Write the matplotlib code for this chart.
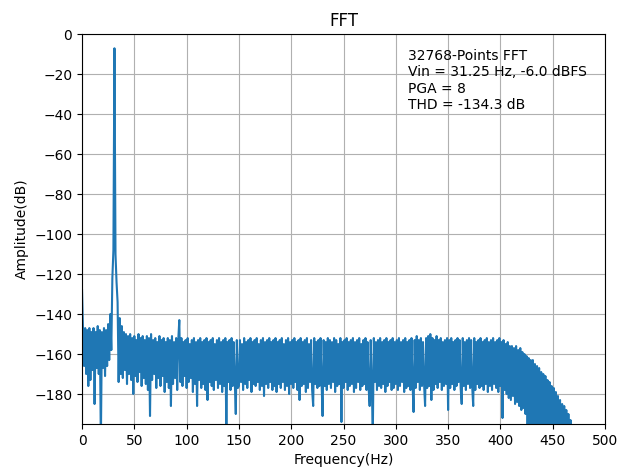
import numpy as np
import matplotlib
matplotlib.use("Agg")
import matplotlib.pyplot as plt

plt.rcParams["path.simplify"] = False

# amplitude (dB), one value per 1 Hz bin from 0 Hz
amp_db = [
    -128, -149, -166, -147, -170, -148, -176, -147, -173, -149,
    -168, -147, -185, -149, -167, -146, -170, -148, -205, -149,
    -167, -147, -171, -148, -166, -145, -163, -140, -158, -122,
    -108, -7, -110, -124, -134, -174, -142, -170, -146, -172,
    -149, -168, -150, -175, -151, -170, -150, -173, -152, -180,
    -151, -171, -153, -174, -150, -169, -152, -176, -151, -172,
    -153, -175, -151, -178, -152, -191, -150, -173, -153, -170,
    -152, -177, -154, -172, -151, -176, -153, -171, -152, -179,
    -154, -174, -152, -177, -153, -186, -151, -175, -154, -172,
    -152, -178, -153, -143, -174, -152, -176, -154, -171, -153,
    -177, -152, -174, -155, -172, -153, -179, -152, -175, -154,
    -186, -153, -173, -152, -177, -154, -175, -153, -178, -152,
    -183, -154, -174, -153, -176, -152, -178, -155, -173, -153,
    -177, -152, -175, -154, -179, -153, -176, -152, -200, -154,
    -174, -153, -178, -152, -176, -154, -173, -190, -153, -177,
    -176, -153, -174, -155, -178, -152, -175, -154, -177, -153,
    -173, -152, -179, -154, -175, -153, -176, -152, -174, -155,
    -178, -153, -176, -152, -181, -154, -175, -153, -177, -152,
    -174, -154, -178, -153, -176, -152, -179, -154, -175, -153,
    -177, -152, -174, -155, -178, -153, -176, -152, -180, -154,
    -175, -153, -177, -152, -174, -154, -178, -153, -183, -152,
    -176, -154, -175, -153, -179, -152, -177, -155, -174, -153,
    -178, -186, -152, -175, -154, -177, -153, -176, -152, -174,
    -191, -153, -176, -154, -178, -152, -175, -153, -177, -154,
    -174, -152, -179, -153, -176, -155, -175, -152, -194, -154,
    -177, -153, -174, -152, -178, -154, -176, -153, -175, -152,
    -179, -154, -177, -153, -174, -152, -178, -155, -176, -153,
    -175, -152, -178, -154, -177, -186, -153, -176, -200, -152,
    -174, -154, -178, -153, -176, -152, -177, -154, -175, -153,
    -179, -152, -176, -154, -174, -153, -178, -152, -177, -154,
    -175, -153, -178, -152, -176, -154, -174, -153, -179, -152,
    -177, -154, -176, -153, -178, -152, -175, -189, -153, -177,
    -151, -174, -153, -178, -152, -176, -154, -175, -186, -152,
    -177, -151, -176, -150, -183, -152, -178, -153, -175, -151,
    -177, -153, -174, -152, -178, -154, -176, -153, -175, -152,
    -188, -153, -177, -152, -175, -154, -178, -153, -176, -152,
    -174, -153, -177, -185, -152, -176, -154, -178, -153, -175,
    -152, -177, -153, -176, -186, -152, -178, -154, -175, -153,
    -177, -152, -176, -154, -178, -153, -175, -152, -179, -154,
    -176, -153, -178, -152, -175, -154, -177, -153, -179, -152,
    -176, -154, -192, -153, -178, -155, -180, -154, -182, -156,
    -183, -156, -181, -157, -185, -156, -184, -158, -186, -157,
    -188, -159, -187, -160, -190, -161, -210, -162, -195, -163,
    -205, -163, -210, -165, -208, -166, -212, -167, -210, -169,
    -215, -170, -212, -171, -218, -173, -215, -174, -220, -176,
    -218, -177, -222, -179, -220, -181, -225, -183, -222, -185,
    -228, -186, -225, -188, -230, -190, -228, -193, -232, -196,
    -230,
]
freq_hz = np.arange(len(amp_db))  # 1 Hz bins

info = "32768-Points FFT\nVin = 31.25 Hz, -6.0 dBFS\nPGA = 8\nTHD = -134.3 dB"

fig = plt.figure(figsize=(6.2, 4.73), dpi=100)
fig.subplots_adjust(left=0.1323, right=0.9758, bottom=0.1036, top=0.9275)
ax = fig.add_subplot(111)
ax.plot(freq_hz, amp_db)
ax.set_xlim(0, 500)
ax.set_ylim(-195, 0)
ax.set_xticks(np.arange(0, 501, 50))
ax.set_yticks(np.arange(-180, 1, 20))
ax.set_title("FFT")
ax.set_xlabel("Frequency(Hz)")
ax.set_ylabel("Amplitude(dB)")
ax.text(312, -7.5, info, va="top")
ax.grid(True)
fig.savefig("out.png", dpi=100)
